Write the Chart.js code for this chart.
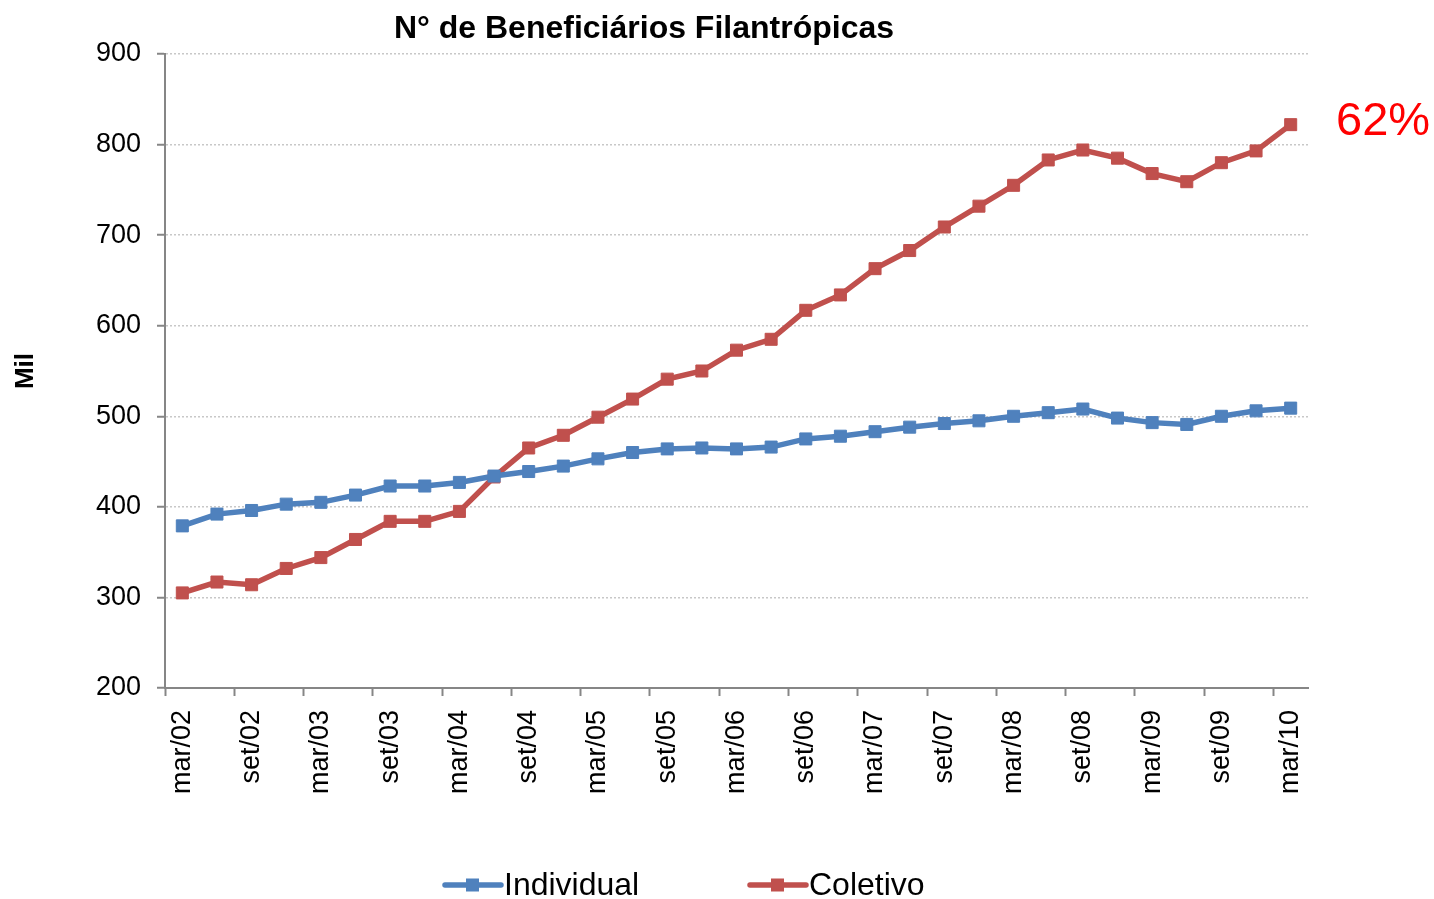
<!DOCTYPE html>
<html>
<head>
<meta charset="utf-8">
<script src="https://cdn.jsdelivr.net/npm/chart.js"></script>
<style>
  body { margin: 0; background: #fff; }
  #wrap { width: 1434px; height: 899px; }
</style>
</head>
<body>
<div id="wrap"><canvas id="benefChart"></canvas></div>
<script>
const quarters = [
  'mar/02', 'jun/02', 'set/02', 'dez/02',
  'mar/03', 'jun/03', 'set/03', 'dez/03',
  'mar/04', 'jun/04', 'set/04', 'dez/04',
  'mar/05', 'jun/05', 'set/05', 'dez/05',
  'mar/06', 'jun/06', 'set/06', 'dez/06',
  'mar/07', 'jun/07', 'set/07', 'dez/07',
  'mar/08', 'jun/08', 'set/08', 'dez/08',
  'mar/09', 'jun/09', 'set/09', 'dez/09',
  'mar/10'
];
const individual = [379, 392, 396, 403, 405, 413, 423, 423, 427, 434, 439, 445, 453, 460, 464, 465, 464,
                    466, 475, 478, 483, 488, 492, 495, 500, 504, 508, 498, 493, 491, 500, 506, 509];
const coletivo = [305, 317, 314, 332, 344, 364, 384, 384, 395, 433, 465, 479, 499, 519, 541, 550, 573,
                  585, 617, 634, 663, 683, 709, 732, 755, 783, 794, 785, 768, 759, 780, 793, 822];
const seriesNames = ['Individual', 'Coletivo'];
const yTicks = [200, 300, 400, 500, 600, 700, 800, 900];
const chartTitle = 'N° de Beneficiários Filantrópicas';
const yTitle = 'Mil';
const growthNote = '62%';

const FONT = '"Liberation Sans", Arial, sans-serif';
const axisGray = '#868686';

// title, legend and the red note are painted by hand so they sit where the original has them
const extras = {
  id: 'extras',
  afterDraw(chart) {
    const c = chart.ctx;
    c.save();
    c.fillStyle = '#000';
    c.font = 'bold 32px ' + FONT;
    c.textAlign = 'center';
    c.textBaseline = 'middle';
    c.fillText(chartTitle, 644, 29);

    // legend
    const xs = [445, 750];
    c.font = '32px ' + FONT;
    c.textAlign = 'left';
    chart.data.datasets.forEach((ds, i) => {
      const x = xs[i], y = 885;
      c.strokeStyle = ds.borderColor;
      c.lineWidth = 5.5;
      c.lineCap = 'round';
      c.beginPath();
      c.moveTo(x, y);
      c.lineTo(x + 56, y);
      c.stroke();
      c.fillStyle = ds.borderColor;
      c.fillRect(x + 21, y - 6.5, 13, 13);
      c.fillStyle = '#000';
      c.fillText(ds.label, x + 59, y + 1);
    });

    // note next to the last Coletivo point
    const ys = chart.scales.y;
    const last = coletivo[coletivo.length - 1];
    c.fillStyle = '#FF0000';
    c.font = '47px ' + FONT;
    c.fillText(growthNote, chart.chartArea.right + 28, ys.getPixelForValue(last) - 3);
    c.restore();
  }
};

new Chart(document.getElementById('benefChart'), {
  type: 'line',
  data: {
    labels: quarters,
    datasets: [
      {
        label: seriesNames[0],
        data: individual,
        borderColor: '#4F81BD',
        backgroundColor: '#4F81BD',
        borderWidth: 5.5,
        pointStyle: 'rect',
        pointRadius: 8.5,
        pointBorderWidth: 1,
        tension: 0
      },
      {
        label: seriesNames[1],
        data: coletivo,
        borderColor: '#C0504D',
        backgroundColor: '#C0504D',
        borderWidth: 5.5,
        pointStyle: 'rect',
        pointRadius: 8.5,
        pointBorderWidth: 1,
        tension: 0
      }
    ]
  },
  options: {
    responsive: true,
    maintainAspectRatio: false,
    animation: false,
    layout: { autoPadding: false, padding: { top: 54, right: 126, left: 0, bottom: 0 } },
    plugins: {
      legend: { display: false },
      title: { display: false },
      tooltip: { enabled: false }
    },
    scales: {
      x: {
        offset: true,
        afterFit(scale) { scale.height = 211; },
        grid: {
          offset: true,
          drawOnChartArea: false,
          drawTicks: true,
          tickLength: 8,
          tickWidth: 2,
          tickColor: (ctx) => ctx.index % 2 === 0 ? axisGray : 'transparent'
        },
        border: { color: axisGray, width: 2 },
        ticks: {
          autoSkip: false,
          minRotation: 90,
          maxRotation: 90,
          padding: 14,
          color: '#000',
          font: { family: FONT, size: 27 },
          callback: (v, i) => i % 2 === 0 ? quarters[i] : ''
        }
      },
      y: {
        min: yTicks[0],
        max: yTicks[yTicks.length - 1],
        afterFit(scale) { scale.width = 165; },
        afterBuildTicks(scale) { scale.ticks = yTicks.map(v => ({ value: v })); },
        grid: {
          color: '#c8c8c8',
          lineWidth: 1.5,
          tickColor: axisGray,
          tickLength: 8,
          tickWidth: 2
        },
        border: { color: axisGray, width: 2, dash: [2, 2] },
        ticks: {
          padding: 16,
          color: '#000',
          font: { family: FONT, size: 27 }
        },
        title: {
          display: true,
          text: yTitle,
          color: '#000',
          padding: { top: 10 },
          font: { family: FONT, size: 26, weight: 'bold' }
        }
      }
    }
  },
  plugins: [extras]
});
</script>
</body>
</html>
